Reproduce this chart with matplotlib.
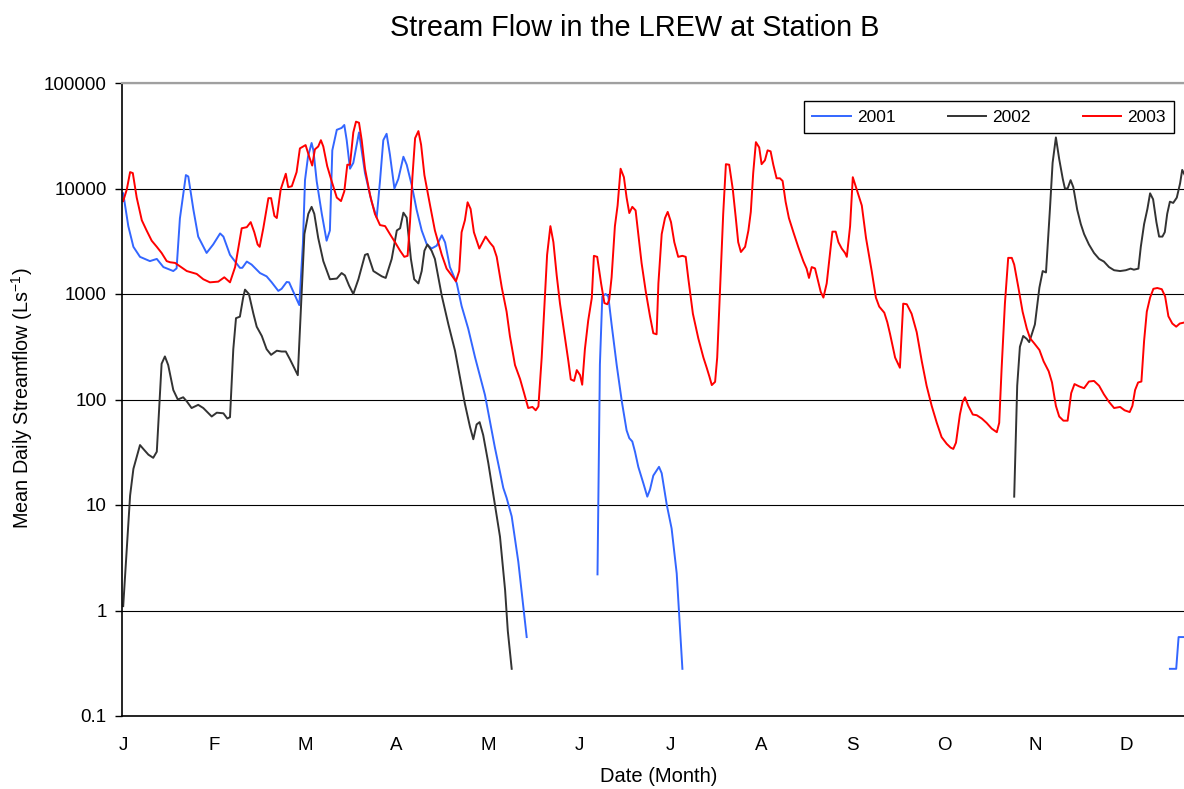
import numpy as np
import matplotlib
matplotlib.use('Agg')
import matplotlib.pyplot as plt
from matplotlib.ticker import NullLocator

plt.rcParams['font.family'] = ['Liberation Sans', 'DejaVu Sans']
plt.rcParams['mathtext.fontset'] = 'custom'
plt.rcParams['mathtext.rm'] = 'Liberation Sans'
plt.rcParams['mathtext.default'] = 'regular'

nan = np.nan

# day of year and mean daily flow in L/s; nan = no data
days_2001 = [0.4, 2.1, 3.8, 6.0, 9.3, 11.6, 13.8, 17.1, 18.2, 19.3, 21.3, 22.1, 23.8, 25.4, 28.2,
             30.4, 32.7, 33.8, 36.0, 39.3, 40.1, 41.6, 43.2, 46.0, 48.2, 49.9, 52.1, 53.2, 54.9,
             55.7, 59.1, 60.3, 61.0, 62.0, 63.2, 63.8, 64.9, 66.6, 68.2, 69.3, 70.1, 71.6, 73.2,
             74.1, 74.9, 76.0, 77.1, 79.0, 81.0, 83.2, 84.9, 86.0, 87.1, 88.2, 89.3, 90.8, 92.1,
             93.8, 94.9, 96.6, 98.2, 99.9, 101.6, 103.2, 104.9, 106.6, 107.7, 109.3, 111.6, 113.2,
             115.4, 117.7, 121.0, 124.3, 127.1, 128.2, 129.9, 132.1, 134.9, nan,
             158.5, 159.3, 160.1, 161.2, 162.1, 163.2, 164.9, 166.6, 168.2, 169.1, 170.1, 171.0,
             172.1, 173.8, 175.1, 176.0, 177.1, 179.0, 179.9, 181.6, 183.2, 184.9, 186.8, nan,
             349.3, 351.4, 352.2, 354.5]
flow_2001 = [9000, 4400, 2800, 2250, 2050, 2150, 1800, 1650, 1750, 5200, 13400, 13000, 6300, 3500, 2450,
             2950, 3750, 3500, 2350, 1770, 1770, 2030, 1900, 1580, 1470, 1290, 1070, 1120, 1300,
             1290, 785, 3000, 12000, 20000, 27000, 23000, 11700, 5750, 3200, 4000, 23000, 36000, 37500,
             40000, 28700, 15400, 17500, 34000, 14000, 7500, 5300, 11800, 28700, 33000, 21000, 10000, 12300,
             20000, 16800, 10700, 6300, 4000, 2950, 2700, 2870, 3600, 3080, 1800, 1260, 770,
             470, 250, 110, 35, 14.5, 11.7, 7.8, 2.9, 0.56, nan,
             2.2, 215, 950, 1000, 950, 515, 212, 96, 51, 43, 40, 32,
             23, 16, 12, 14, 19, 23, 20, 10, 6, 2.25, 0.28, nan,
             0.28, 0.28, 0.56, 0.56]

days_2002 = [0.4, 1.6, 2.7, 3.8, 6.0, 7.1, 8.8, 10.4, 11.6, 13.2, 14.3, 15.4, 17.1, 18.6, 20.4, 21.6,
             23.2, 25.4, 27.1, 29.9, 31.6, 33.8, 35.1, 36.0, 37.1, 38.0, 39.3, 40.4, 41.0, 42.3, 43.8,
             44.9, 46.6, 48.2, 49.7, 51.6, 53.2, 54.6, 56.0, 58.6, 59.9, 60.8, 62.1, 63.2, 64.1, 65.4,
             67.1, 69.3, 71.6, 73.2, 74.3, 75.7, 77.1, 78.8, 81.0, 81.9, 83.8, 86.6, 87.9, 89.9, 91.6,
             92.7, 93.8, 94.9, 96.3, 97.4, 98.8, 99.9, 100.8, 101.8, 103.2, 104.3, 106.6, 108.8, 111.0,
             112.7, 114.3, 116.0, 117.1, 118.2, 119.2, 120.4, 122.1, 124.3, 126.0, 127.7, 128.6, 129.9, nan,
             297.4, 298.4, 299.3, 300.4, 301.6, 302.4, 303.2, 304.3, 305.8, 306.9, 308.0, 309.3, 310.2,
             311.3, 312.4, 313.6, 314.3, 315.2, 316.2, 317.1, 318.4, 319.6, 320.7, 322.3, 324.0, 325.7,
             327.3, 329.0, 330.7, 332.7, 334.6, 336.2, 337.3, 338.8, 339.6, 340.7, 341.8, 342.7, 343.7,
             344.8, 345.7, 346.8, 347.6, 348.4, 349.3, 350.4, 351.6, 352.7, 353.4, 354.5]
flow_2002 = [1.1, 3.8, 12.3, 22, 37, 34, 30, 28, 32, 218, 256, 212, 123, 100, 105, 96,
             83, 89, 83, 69, 75, 74, 66, 68, 300, 590, 610, 930, 1100, 1000, 650,
             490, 400, 300, 265, 290, 285, 285, 240, 170, 1050, 3700, 5750, 6700, 5750, 3400,
             2050, 1380, 1400, 1580, 1500, 1200, 1000, 1380, 2350, 2400, 1650, 1470, 1420, 2150, 4000,
             4200, 5900, 5300, 2150, 1380, 1260, 1650, 2570, 2950, 2570, 2150, 960, 515, 290,
             160, 91, 55, 42, 58, 61, 46, 25, 10, 5, 1.56, 0.64, 0.28, nan,
             12, 135, 316, 400, 375, 350, 410, 515, 1150, 1650, 1600, 6300, 17500,
             30500, 19000, 12300, 10000, 10000, 12000, 10300, 6300, 4600, 3700, 2950, 2450, 2150,
             2030, 1800, 1680, 1650, 1680, 1740, 1700, 1740, 2800, 4600, 6400, 9000, 7900,
             4800, 3500, 3500, 3860, 5750, 7500, 7300, 8200, 11200, 15000, 13000]

days_2003 = [0.4, 1.6, 2.7, 3.6, 4.9, 6.6, 8.2, 9.9, 11.6, 13.2, 14.9, 16.0, 17.7, 19.3, 21.6, 23.8,
             24.9, 27.1, 29.3, 32.1, 34.1, 36.0, 37.7, 39.9, 41.6, 42.9, 44.1, 45.2, 45.9, 47.1, 48.8,
             49.7, 50.8, 51.6, 52.9, 54.6, 55.4, 56.6, 58.2, 59.3, 61.2, 62.4, 63.4, 64.3, 65.4, 66.3,
             67.1, 68.4, 69.9, 71.6, 73.0, 74.1, 75.1, 76.0, 77.1, 78.0, 79.0, 79.9, 81.0, 82.7, 84.3,
             86.0, 87.7, 89.3, 91.0, 92.7, 94.1, 95.2, 96.0, 96.8, 97.7, 98.8, 99.7, 100.8, 102.7, 104.3,
             106.6, 108.2, 109.9, 111.3, 112.4, 113.2, 114.3, 115.2, 116.2, 117.3, 119.1, 121.2, 122.7,
             123.8, 124.9, 126.6, 128.2, 129.3, 131.0, 132.7, 134.1, 135.4, 136.8, 137.9, 138.8, 139.9,
             141.0, 141.7, 142.8, 143.8, 144.9, 146.0, 147.4, 148.8, 149.6, 150.7, 151.6, 152.7, 153.4,
             154.3, 155.4, 156.6, 157.3, 158.4, 159.7, 160.8, 161.8, 162.4, 163.2, 164.3, 165.2, 166.2,
             167.3, 168.2, 169.1, 170.1, 171.2, 172.1, 173.2, 174.6, 176.0, 177.1, 178.2, 178.8, 179.9,
             181.0, 181.9, 183.0, 184.1, 185.4, 186.8, 187.9, 188.8, 190.3, 192.1, 193.8, 194.9, 195.8,
             196.6, 197.7, 198.4, 199.3, 200.4, 201.3, 202.4, 203.6, 204.6, 205.4, 206.3, 207.7, 208.8,
             209.6, 210.4, 211.3, 212.4, 213.2, 214.3, 215.2, 216.2, 217.1, 218.2, 219.3, 220.2, 221.2,
             222.3, 223.8, 225.4, 227.1, 228.2, 229.0, 229.9, 231.0, 231.9, 232.9, 233.8, 234.9, 235.8,
             236.8, 237.9, 238.8, 239.9, 241.0, 241.6, 242.7, 243.6, 244.9, 246.6, 248.0, 249.9, 251.3,
             252.4, 254.1, 255.1, 256.0, 257.7, 259.3, 260.4, 261.6, 263.2, 264.9, 266.6, 268.2, 269.9,
             271.6, 273.2, 274.9, 276.2, 277.1, 278.0, 279.3, 280.2, 281.0, 282.1, 283.6, 284.9, 286.6,
             288.2, 289.9, 291.6, 292.4, 293.2, 294.3, 295.4, 296.6, 297.4, 298.8, 300.2, 301.6, 302.7,
             304.1, 305.8, 307.2, 308.9, 310.0, 311.3, 312.4, 313.8, 315.2, 316.4, 317.5, 319.1, 320.7,
             322.3, 324.0, 325.7, 327.3, 329.0, 330.7, 332.7, 334.2, 335.9, 336.8, 337.7, 338.7, 339.8,
             340.7, 341.6, 342.7, 343.8, 345.1, 346.6, 347.7, 348.8, 350.1, 351.4, 352.6, 354.5]
flow_2003 = [7600, 9800, 14300, 14000, 8200, 5000, 4000, 3200, 2800, 2450, 2050, 2000, 1970, 1830, 1650, 1580,
             1550, 1380, 1290, 1310, 1440, 1290, 1800, 4200, 4300, 4800, 3850, 2950, 2800, 4200, 8100,
             8100, 5500, 5250, 9800, 13800, 10300, 10500, 14300, 24000, 25800, 20000, 16500, 23500, 25000, 28700,
             25000, 16300, 11700, 8200, 7600, 9400, 16800, 16800, 34000, 43000, 42000, 28700, 15400, 8600, 5750,
             4500, 4400, 3700, 3100, 2570, 2250, 2300, 4800, 12800, 30000, 35000, 26000, 13400, 6900, 4000,
             2350, 1740, 1500, 1320, 1650, 3850, 5000, 7400, 6400, 3850, 2700, 3500, 3050,
             2800, 2250, 1150, 680, 400, 212, 156, 113, 83, 85, 79, 86, 250,
             960, 2350, 4400, 3100, 1500, 810, 435, 230, 155, 150, 190, 170, 138,
             300, 560, 920, 2300, 2250, 1260, 820, 800, 880, 1440, 4400, 6900, 15400,
             12800, 8200, 5850, 6700, 6200, 3700, 1960, 1050, 615, 425, 415, 1260, 3700,
             5250, 6000, 4800, 3100, 2250, 2300, 2250, 1380, 650, 380, 250, 200, 165,
             137, 147, 250, 1050, 5750, 17000, 16800, 9800, 5250, 3100, 2500, 2800, 4000,
             6000, 14000, 27500, 24500, 17000, 18500, 23000, 22500, 16800, 12500, 12500, 11800, 7500,
             5250, 3850, 2800, 2050, 1740, 1420, 1800, 1750, 1380, 1050, 925, 1260, 2150,
             3900, 3900, 3100, 2700, 2450, 2250, 4400, 12800, 9800, 6900, 3400, 1650, 925,
             760, 665, 540, 420, 250, 200, 810, 800, 650, 435, 230, 135, 87,
             60, 44, 38, 35, 34, 39, 72, 95, 105, 87, 72, 71, 66,
             60, 53, 49, 60, 195, 810, 2200, 2200, 1900, 1150, 680, 470, 380,
             340, 295, 230, 185, 145, 87, 69, 63, 63, 115, 140, 133, 128,
             148, 150, 135, 112, 95, 83, 85, 79, 76, 87, 123, 145, 148,
             360, 680, 925, 1120, 1140, 1110, 950, 615, 525, 490, 525, 540]

years = ['2001', '2002', '2003']
month_labels = ['J', 'F', 'M', 'A', 'M', 'J', 'J', 'A', 'S', 'O', 'N', 'D']
y_ticks = [0.1, 1, 10, 100, 1000, 10000, 100000]
y_tick_labels = ['0.1', '1', '10', '100', '1000', '10000', '100000']

fig = plt.figure(figsize=(11.84, 7.89), dpi=100)
ax = fig.add_axes([122 / 1184, 1 - 716 / 789, 1062 / 1184, 633 / 789])

ax.plot(days_2001, flow_2001, color='#3366ff', lw=1.4, label=years[0])
ax.plot(days_2002, flow_2002, color='#333333', lw=1.4, label=years[1])
ax.plot(days_2003, flow_2003, color='#ff0000', lw=1.4, label=years[2])

ax.set_yscale('log')
ax.set_ylim(0.1, 100000)
ax.set_xlim(0, 354)
ax.set_yticks(y_ticks, labels=y_tick_labels)
ax.yaxis.set_minor_locator(NullLocator())
ax.set_xticks(np.arange(12) * 365 / 12 + 0.3, labels=month_labels)
ax.grid(axis='y', which='major', color='black', lw=0.8)

ax.spines['right'].set_visible(False)
ax.spines['top'].set_color('#a0a0a0')
ax.spines['top'].set_linewidth(1.6)
ax.spines['left'].set_linewidth(1.2)
ax.spines['bottom'].set_linewidth(1.2)
ax.tick_params(axis='y', length=5, width=1, direction='out', pad=6, labelsize=13.5)
ax.tick_params(axis='x', length=0, pad=15, labelsize=13.5)

# legend box spans the same width as in the original chart
leg = ax.legend(loc='upper left', bbox_to_anchor=(0.642, 0.90, 0.349, 0.0716), mode='expand',
                ncol=3, fontsize=12.5, fancybox=False, edgecolor='black', framealpha=1,
                borderaxespad=0, handlelength=2.2, handletextpad=0.35, borderpad=0.5)
leg.get_frame().set_linewidth(1.0)

fig.text(635 / 1184, 1 - 28 / 789, 'Stream Flow in the LREW at Station B',
         ha='center', va='center', fontsize=20.8)
fig.text(22 / 1184, 1 - 398 / 789, 'Mean Daily Streamflow (Ls$^{-1}$)',
         rotation=90, ha='center', va='center', fontsize=14.3)
fig.text(659 / 1184, 1 - 776 / 789, 'Date (Month)', ha='center', va='center', fontsize=14.5)

fig.savefig('out.png', dpi=100)
